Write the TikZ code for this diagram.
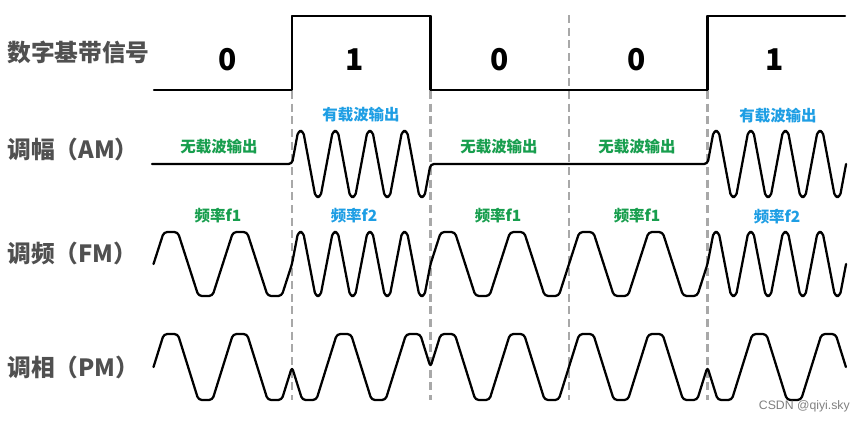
\documentclass[tikz,border=0pt]{standalone}
\usepackage{fontspec}
\newfontfamily\cjk{Noto Sans CJK SC}
\newfontfamily\wmfont{Liberation Sans}
\definecolor{labelgray}{RGB}{80,80,80}
\definecolor{carblue}{RGB}{30,158,228}
\definecolor{cargreen}{RGB}{24,158,78}
\definecolor{sepgray}{RGB}{168,168,168}

% one carrier period, starting on the centre line going up / going down
% #1 slope run, #2 flat width, #3 amplitude
\newcommand\upcyc[3]{-- ++(#1,-#3) -- ++(#2,0) -- ++(2*#1,2*#3) -- ++(#2,0) -- ++(#1,-#3)}
\newcommand\dncyc[3]{-- ++(#1,#3) -- ++(#2,0) -- ++(2*#1,-2*#3) -- ++(#2,0) -- ++(#1,#3)}

\tikzset{
sig/.style={line width=1.7pt, line join=round, line cap=round},
wave/.style={sig, rounded corners=2.6pt},
bitsep/.style={draw=sepgray, line width=2pt, dash pattern=on 6pt off 3.5pt},
rowlabel/.style={anchor=west, inner sep=0pt, text=labelgray, font=\cjk\bfseries\fontsize{17.8}{17.8}\selectfont},
bitval/.style={inner sep=0pt, font=\cjk\bfseries\fontsize{22.5}{22.5}\selectfont},
oncarrier/.style={inner sep=0pt, text=carblue, font=\cjk\bfseries\fontsize{11.6}{11.6}\selectfont},
nocarrier/.style={oncarrier, text=cargreen},
}

\begin{document}
\begin{tikzpicture}[x=0.75pt,y=0.75pt,yscale=-1,xscale=1]
\useasboundingbox (0,0) rectangle (866,422);

%Dashed bit borders
\foreach \xb in {292,430.5,569,707.5}
  \draw [bitsep] (\xb,15) -- (\xb,400);

% Row labels
\node [rowlabel] (lblDigital) at (7,52) {数字基带信号};
\node [rowlabel] (lblAM) at (7,149) {调幅（AM）};
\node [rowlabel] (lblFM) at (7,253) {调频（FM）};
\node [rowlabel] (lblPM) at (7,367) {调相（PM）};

% Bit values
\node [bitval] (b0) at (228,60) {0};
\node [bitval] (b1) at (355,60) {1};
\node [bitval] (b2) at (500,60) {0};
\node [bitval] (b3) at (637,60) {0};
\node [bitval] (b4) at (775,60) {1};

%Digital baseband signal
\draw [sig] (154,90) -- (292,90) -- (292,16) -- (430.5,16) -- (430.5,90) -- (707.5,90) -- (707.5,16) -- (845,16);

%AM
\node [nocarrier] (amOff0) at (219,147) {无载波输出};
\node [oncarrier] (amOn1) at (361,115) {有载波输出};
\node [nocarrier] (amOff2) at (499,147) {无载波输出};
\node [nocarrier] (amOff3) at (637,147) {无载波输出};
\node [oncarrier] (amOn4) at (778,116) {有载波输出};
\draw [wave] (152,164) -- (292,164)
  \foreach \k in {1,...,4} {\upcyc{6.16}{5}{33}} -- (707.5,164)
  \foreach \k in {1,...,4} {\upcyc{6.16}{5}{33}};

%FM
\node [nocarrier] (fmF0) at (218,216) {频率f1};
\node [oncarrier] (fmF1) at (354,216) {频率f2};
\node [nocarrier] (fmF2) at (498,216) {频率f1};
\node [nocarrier] (fmF3) at (637,216) {频率f1};
\node [oncarrier] (fmF4) at (777,217) {频率f2};
\draw [wave] (153.5,264)
  \foreach \k in {1,2} {\upcyc{10.31}{14}{32}}
  \foreach \k in {1,...,4} {\upcyc{6.16}{5}{32}}
  \foreach \k in {1,...,4} {\upcyc{10.31}{14}{32}}
  \foreach \k in {1,...,4} {\upcyc{6.16}{5}{32}};

%PM
\draw [wave] (153.5,367)
  \foreach \k in {1,2} {\upcyc{10.31}{14}{33}}
  \foreach \k in {1,2} {\dncyc{10.31}{14}{33}}
  \foreach \k in {1,...,4} {\upcyc{10.31}{14}{33}}
  \foreach \k in {1,2} {\dncyc{10.31}{14}{33}};

% Text Node
\node [inner sep=0pt, anchor=east, text=gray, font=\wmfont\fontsize{9.2}{9.2}\selectfont] (wm) at (850,406) {CSDN @qiyi.sky};

\end{tikzpicture}
\end{document}
